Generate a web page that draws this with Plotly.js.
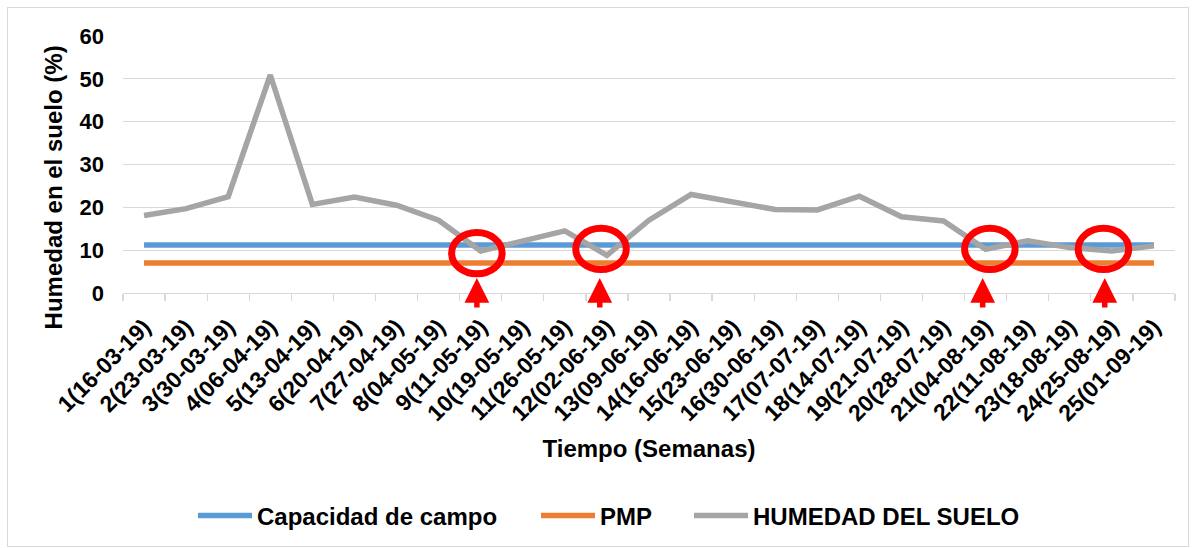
<!DOCTYPE html>
<html>
<head>
<meta charset="utf-8">
<script src="https://cdn.plot.ly/plotly-3.0.1.min.js"></script>
<style>
  html, body { margin: 0; padding: 0; background: #ffffff; }
  #wrap { position: relative; width: 1195px; height: 548px; }
  #chart { width: 1195px; height: 548px; }
  #frame { position: absolute; left: 7px; top: 7px; width: 1180px; height: 538px;
           border: 1px solid #d9d9d9; pointer-events: none; }
</style>
</head>
<body>
<div id="wrap"><div id="chart"></div><div id="frame"></div></div>
<script>
// Categories (weeks)
const semanas = [
  '1(16-03-19)', '2(23-03-19)', '3(30-03-19)', '4(06-04-19)', '5(13-04-19)',
  '6(20-04-19)', '7(27-04-19)', '8(04-05-19)', '9(11-05-19)', '10(19-05-19)',
  '11(26-05-19)', '12(02-06-19)', '13(09-06-19)', '14(16-06-19)', '15(23-06-19)',
  '16(30-06-19)', '17(07-07-19)', '18(14-07-19)', '19(21-07-19)', '20(28-07-19)',
  '21(04-08-19)', '22(11-08-19)', '23(18-08-19)', '24(25-08-19)', '25(01-09-19)'
];

// Series values (%)
const capacidadCampo = [
  11.2, 11.2, 11.2, 11.2, 11.2, 11.2, 11.2, 11.2, 11.2, 11.2,
  11.2, 11.2, 11.2, 11.2, 11.2, 11.2, 11.2, 11.2, 11.2, 11.2,
  11.2, 11.2, 11.2, 11.2, 11.2
];
const pmp = [
  7.0, 7.0, 7.0, 7.0, 7.0, 7.0, 7.0, 7.0, 7.0, 7.0,
  7.0, 7.0, 7.0, 7.0, 7.0, 7.0, 7.0, 7.0, 7.0, 7.0,
  7.0, 7.0, 7.0, 7.0, 7.0
];
const humedadSuelo = [
  18.1, 19.7, 22.5, 50.9, 20.7, 22.4, 20.5, 17.0, 9.8, 12.0,
  14.5, 8.8, 17.0, 23.0, 21.1, 19.5, 19.4, 22.6, 17.8, 16.8,
  10.2, 12.2, 10.6, 9.8, 11.0
];

// Highlighted weeks (red circles + arrows), as category positions
const marcasX = [7.91, 10.86, 20.1, 22.8];
const marcasY = [9.3, 10.3, 10.3, 10.3];
const flechasX = [7.91, 10.83, 19.93, 22.83];

const FONT = 'Arial, "Liberation Sans", sans-serif';
const legendFont = { family: FONT, size: 24, weight: 'bold', color: '#000000' };

const traces = [
  { x: semanas, y: capacidadCampo, name: 'Capacidad de campo', type: 'scatter', mode: 'lines',
    line: { color: '#5b9bd5', width: 5.5 }, legend: 'legend' },
  { x: semanas, y: pmp, name: 'PMP', type: 'scatter', mode: 'lines',
    line: { color: '#ed7d31', width: 5.5 }, legend: 'legend2' },
  { x: semanas, y: humedadSuelo, name: 'HUMEDAD DEL SUELO', type: 'scatter', mode: 'lines',
    line: { color: '#a5a5a5', width: 5.5 }, legend: 'legend3' }
];

const shapes = marcasX.map((cx, i) => ({
  type: 'circle', xref: 'x', yref: 'y', layer: 'above',
  x0: cx - 0.6, x1: cx + 0.6, y0: marcasY[i] - 4.8, y1: marcasY[i] + 4.8,
  line: { color: '#ff0000', width: 7 }
}));

const annotations = flechasX.map(cx => ({
  x: cx, y: 3.5, xref: 'x', yref: 'y', text: '', showarrow: true,
  ax: 0, ay: 31, arrowhead: 2, arrowsize: 0.9, arrowwidth: 5.5, arrowcolor: '#ff0000', standoff: 0
}));
annotations.push({
  text: 'Humedad en el suelo (%)', textangle: -90, showarrow: false,
  xref: 'paper', yref: 'paper', x: -0.0665, y: 0.411, xanchor: 'center', yanchor: 'middle',
  font: { family: FONT, size: 24, weight: 'bold', color: '#000000' }
});

function leg(xpx) {
  return {
    orientation: 'h', x: (xpx - 123) / 1052, xanchor: 'left', y: -0.86, yanchor: 'middle',
    font: legendFont, itemwidth: 54, bgcolor: 'rgba(0,0,0,0)'
  };
}

const layout = {
  width: 1195, height: 548,
  margin: { l: 123, r: 20, t: 36, b: 254 },
  paper_bgcolor: '#ffffff', plot_bgcolor: '#ffffff',
  font: { family: FONT, color: '#000000' },
  showlegend: true,
  legend: leg(193),
  legend2: leg(536),
  legend3: leg(689),
  xaxis: {
    type: 'category', range: [-0.5, 24.5],
    tickangle: -45,
    tickfont: { family: FONT, size: 23, weight: 'bold', color: '#000000' },
    ticks: 'outside', tickson: 'boundaries', ticklen: 7, tickcolor: '#d9d9d9', tickwidth: 1.3,
    showline: true, linecolor: '#d9d9d9', linewidth: 1.3,
    showgrid: false, zeroline: false,
    ticklabelstandoff: 10,
    title: { text: 'Tiempo (Semanas)', font: { family: FONT, size: 24, weight: 'bold', color: '#000000' }, standoff: 15 }
  },
  yaxis: {
    range: [0, 60], dtick: 10, tick0: 0,
    tickfont: { family: FONT, size: 22, weight: 'bold', color: '#000000' },
    ticks: '', showline: false, zeroline: false,
    gridcolor: '#d9d9d9', gridwidth: 1.3,
    ticklabelstandoff: 18
  },
  shapes: shapes,
  annotations: annotations
};

Plotly.newPlot('chart', traces, layout, { displayModeBar: false, staticPlot: true });
</script>
</body>
</html>
